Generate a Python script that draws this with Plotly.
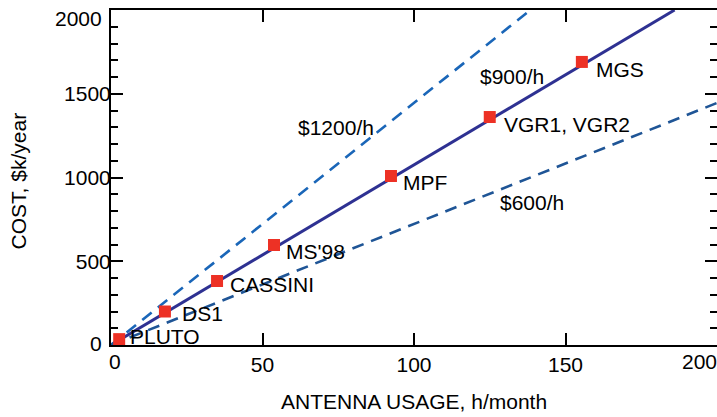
import plotly.graph_objects as go

# ---- data ----
missions = ["PLUTO", "DS1", "CASSINI", "MS'98", "MPF", "VGR1, VGR2", "MGS"]
usage_h = [2.7, 17.8, 35.0, 53.8, 92.4, 125.0, 155.4]
cost_k = [35, 200, 382, 597, 1009, 1361, 1690]

rate_labels = ["$900/h", "$1200/h", "$600/h"]
rate_h = [[0, 186], [0, 138.4], [0, 200]]
rate_cost = [[0, 2000], [0, 2000], [0, 1445]]
rate_label_h = [121.1, 61.1, 127.7]
rate_label_cost = [1606, 1301, 848]

x_ticks = [0, 50, 100, 150, 200]
x_tick_labels = ["0", "50", "100", "150", "200"]
y_ticks = [0, 500, 1000, 1500, 2000]
y_tick_labels = ["0", "500", "1000", "1500", "2000"]

# ---- styles ----
FONT = "Arial, Liberation Sans, Helvetica, sans-serif"
FS = 21
TXT = dict(family=FONT, size=FS, color="#000")
rate_colors = ["#2e3192", "#1a66b8", "#1f5596"]
rate_dash = ["solid", "12px,8px", "12px,8px"]
rate_width = [3, 2.6, 2.6]
label_dx = [9, 15, 11, 10, 10, 12, 12]
label_dy = [3, -2, -3, -6, -7, -7, -8]
# end tick labels are nudged inward in the reference
x_end_shift = {0: 4, 4: -18}
y_end_shift = {0: 2, 4: -8}

fig = go.Figure()
for i in range(3):
    fig.add_trace(go.Scatter(
        x=rate_h[i], y=rate_cost[i], mode="lines",
        line=dict(color=rate_colors[i], width=rate_width[i], dash=rate_dash[i]),
        showlegend=False, hoverinfo="skip"))

fig.add_trace(go.Scatter(
    x=usage_h, y=cost_k, mode="markers",
    marker=dict(symbol="square", size=12, color="#ed3125", line=dict(width=0)),
    showlegend=False, cliponaxis=False))

annotations = []
for name, hx, cy, dx, dy in zip(missions, usage_h, cost_k, label_dx, label_dy):
    annotations.append(dict(x=hx, y=cy, xref="x", yref="y", text=name,
                            showarrow=False, xanchor="left", yanchor="middle",
                            xshift=dx, yshift=dy, font=TXT))
for t, hx, cy in zip(rate_labels, rate_label_h, rate_label_cost):
    annotations.append(dict(x=hx, y=cy, xref="x", yref="y", text=t,
                            showarrow=False, xanchor="left", yanchor="middle",
                            font=TXT))
for idx, sh in x_end_shift.items():
    annotations.append(dict(x=x_ticks[idx], y=0, xref="x", yref="paper",
                            text=x_tick_labels[idx], showarrow=False,
                            xanchor="center", yanchor="middle",
                            xshift=sh, yshift=-16, font=TXT))
for idx, sh in y_end_shift.items():
    annotations.append(dict(x=0, y=y_ticks[idx], xref="paper", yref="y",
                            text=y_tick_labels[idx], showarrow=False,
                            xanchor="right", yanchor="middle",
                            xshift=-7, yshift=sh, font=TXT))
annotations.append(dict(x=0.5, y=-0.17, xref="paper", yref="paper",
                        text="ANTENNA USAGE, h/month", showarrow=False,
                        xanchor="center", yanchor="middle", font=TXT))
annotations.append(dict(x=-0.152, y=0.491, xref="paper", yref="paper",
                        text="COST, $k/year", showarrow=False, textangle=-90,
                        xanchor="center", yanchor="middle", font=TXT))

x_axis_text = ["" if i in x_end_shift else s for i, s in enumerate(x_tick_labels)]
y_axis_text = ["" if i in y_end_shift else s for i, s in enumerate(y_tick_labels)]

fig.update_layout(
    width=717, height=417,
    margin=dict(l=111, r=0, t=10, b=72),
    paper_bgcolor="white", plot_bgcolor="white",
    font=TXT,
    annotations=annotations,
    xaxis=dict(range=[0, 200], tickvals=x_ticks, ticktext=x_axis_text,
               ticks="inside", ticklen=12,
               tickwidth=1.5, tickcolor="#000", showline=True, linecolor="#000",
               linewidth=2, mirror="allticks", showgrid=False, zeroline=False,
               automargin=False, tickfont=TXT),
    yaxis=dict(range=[0, 2000], tickvals=y_ticks, ticktext=y_axis_text,
               ticks="inside", ticklen=12,
               tickwidth=1.5, tickcolor="#000", showline=True, linecolor="#000",
               linewidth=2, mirror="allticks", showgrid=False, zeroline=False,
               automargin=False, ticklabelstandoff=-6, tickfont=TXT,
               minor=dict(dtick=100, ticks="inside", ticklen=7, tickwidth=1.5,
                          tickcolor="#000", showgrid=False)),
)

fig.write_html("out.html")
